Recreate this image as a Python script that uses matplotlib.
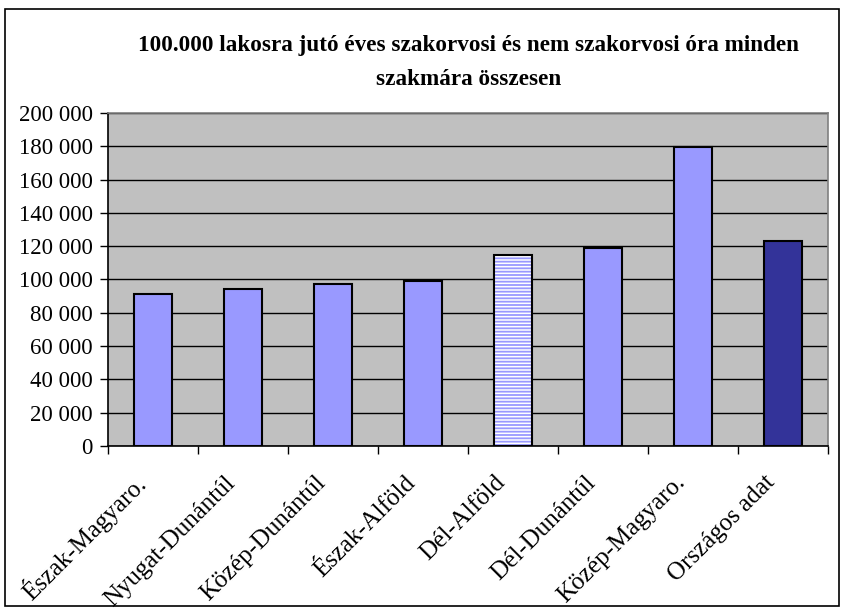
import matplotlib
matplotlib.use("Agg")
import matplotlib.pyplot as plt
from matplotlib.patches import Rectangle
from matplotlib.ticker import FixedLocator, FuncFormatter

categories = ["Észak-Magyaro.", "Nyugat-Dunántúl", "Közép-Dunántúl", "Észak-Alföld",
              "Dél-Alföld", "Dél-Dunántúl", "Közép-Magyaro.", "Országos adat"]
values = [91000, 94000, 97300, 99100, 114500, 118900, 179600, 123100]
y_ticks = list(range(0, 200001, 20000))
title = "100.000 lakosra jutó éves szakorvosi és nem szakorvosi óra minden\nszakmára összesen"

plt.rcParams["font.family"] = ["Liberation Serif", "DejaVu Serif"]
plt.rcParams["hatch.linewidth"] = 1.3

fig = plt.figure(figsize=(8.44, 6.10), dpi=100)
fig.patch.set_facecolor("white")
fig.patches.append(Rectangle((0.006, 0.006), 0.988, 0.98, transform=fig.transFigure,
                             fill=False, edgecolor="black", linewidth=1.2))

ax = fig.add_axes([0.128, 0.2689, 0.853, 0.5459])
ax.set_facecolor("#C0C0C0")

x = list(range(len(categories)))
fills = ["#9999FF"] * len(categories)
fills[-1] = "#333399"
bar_w = 0.42
for i, (xi, v) in enumerate(zip(x, values)):
    if categories[i] == "Dél-Alföld":
        # striped fill: light blue lines on white, then a black outline on top
        ax.bar(xi, v, width=bar_w, color="white", edgecolor="#9999FF", linewidth=0,
               hatch="-----", zorder=3)
        ax.bar(xi, v, width=bar_w, fill=False, edgecolor="black", linewidth=1.5, zorder=4)
    else:
        ax.bar(xi, v, width=bar_w, color=fills[i], edgecolor="black", linewidth=1.5, zorder=3)

ax.set_xlim(-0.5, len(categories) - 0.5)
ax.set_ylim(0, 200000)
ax.yaxis.set_major_locator(FixedLocator(y_ticks))
ax.yaxis.set_major_formatter(FuncFormatter(lambda v, p: f"{int(v):,}".replace(",", " ")))
ax.grid(axis="y", color="black", linewidth=1.0, zorder=1)
ax.set_axisbelow(True)

ax.spines["left"].set_color("black")
ax.spines["bottom"].set_color("black")
ax.spines["top"].set_color("#808080")
ax.spines["right"].set_color("#808080")
for s in ax.spines.values():
    s.set_linewidth(1.2)

ax.tick_params(axis="y", direction="out", length=6, width=1, labelsize=16.5, pad=5)
ax.set_xticks([i - 0.5 for i in range(len(categories) + 1)])
ax.set_xticklabels([])
ax.tick_params(axis="x", direction="out", length=6, width=1)

for xi, name in zip(x, categories):
    ax.annotate(name, xy=(xi, 0), xycoords=("data", "axes fraction"),
                xytext=(-8, -24), textcoords="offset points",
                rotation=45, rotation_mode="anchor", ha="right", va="center",
                fontsize=18)

fig.text(0.555, 0.898, title, ha="center", va="center", fontsize=16.7,
         fontweight="bold", linespacing=1.8)

fig.savefig("out.png", dpi=100)
